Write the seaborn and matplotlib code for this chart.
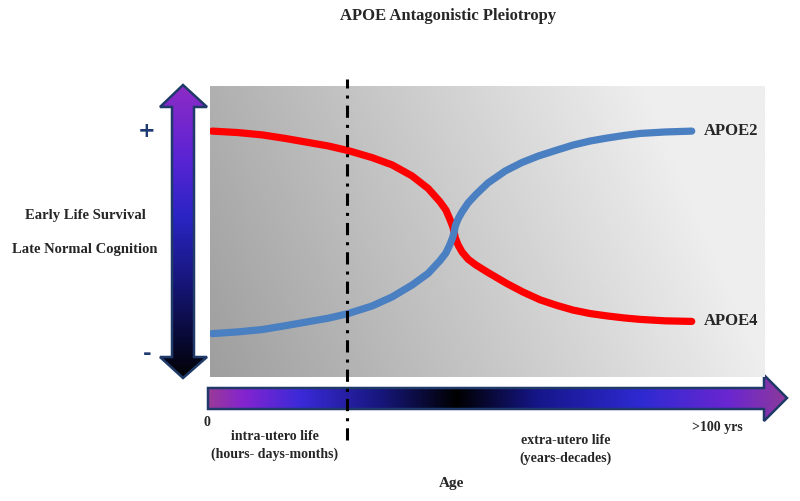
import numpy as np
import pandas as pd
import matplotlib
matplotlib.use("Agg")
import matplotlib.pyplot as plt
from matplotlib.patches import Polygon
from matplotlib.colors import LinearSegmentedColormap
import seaborn as sns

# curve points (x: age axis 0-100, y: 0-100 inside the grey box)
age4 = [0.4, 5.0, 9.4, 13.5, 17.1, 21.3, 24.9, 29.2, 32.8, 36.4, 39.3, 41.4, 42.5, 43.2, 43.7,
        44.0, 44.2, 44.7, 45.4, 46.5, 47.9, 50.1, 53.5, 56.4, 59.5, 62.5, 65.4, 68.5, 71.5,
        74.6, 77.5, 82.0, 86.8]
apoe4 = [84.5, 84.0, 83.2, 82.0, 80.8, 79.4, 77.8, 75.4, 72.9, 69.1, 64.8, 60.3, 57.4, 54.3, 51.9,
         49.8, 47.8, 45.4, 43.0, 40.5, 38.5, 35.9, 32.1, 29.2, 26.5, 24.6, 23.0, 21.8, 21.0,
         20.3, 19.8, 19.3, 19.1]
age2 = [0.4, 5.0, 9.4, 13.5, 17.1, 21.3, 24.9, 29.2, 32.8, 36.4, 39.3, 41.4, 42.5, 43.2, 43.7,
        44.0, 44.2, 44.7, 45.4, 46.5, 47.9, 50.1, 53.2, 56.2, 59.1, 62.2, 65.4, 68.5, 71.5,
        74.6, 77.5, 82.0, 86.8]
apoe2 = [14.9, 15.5, 16.3, 17.6, 18.8, 20.2, 21.8, 24.4, 27.5, 31.6, 35.6, 39.9, 42.6, 45.4, 47.8,
         49.8, 51.9, 54.3, 56.7, 59.8, 62.7, 66.7, 70.8, 73.7, 75.9, 77.8, 79.7, 81.1, 82.1,
         83.0, 83.7, 84.2, 84.5]
birth_x = 24.7

curves = pd.concat([
    pd.DataFrame({"age": age4, "value": apoe4, "allele": "APOE4"}),
    pd.DataFrame({"age": age2, "value": apoe2, "allele": "APOE2"}),
])

sns.set_theme(style="white")
plt.rcParams["font.family"] = ["Liberation Serif", "DejaVu Serif"]
plt.rcParams["font.weight"] = "bold"

W, H = 800, 501
fig = plt.figure(figsize=(8, 5.01), dpi=100)

# overlay axes in pixel units for the arrows and labels
deco = fig.add_axes([0, 0, 1, 1], zorder=0)
deco.set_xlim(0, W)
deco.set_ylim(H, 0)
deco.axis("off")

# main plot area (grey box)
ax = fig.add_axes([210 / W, (H - 377) / H, 555 / W, 291 / H], zorder=1)
ax.patch.set_visible(False)
xx, yy = np.meshgrid(np.linspace(0, 1, 200), np.linspace(0, 1, 100))
shade = np.clip(0.62 + 0.31 * xx + 0.07 * yy, 0, 0.93)
ax.imshow(shade, cmap="gray", vmin=0, vmax=1, extent=(0, 100, 0, 100),
          origin="lower", aspect="auto", zorder=0)

sns.lineplot(data=curves[curves.allele == "APOE4"], x="age", y="value",
             color="#ff0000", linewidth=5.2, ax=ax, zorder=2, solid_joinstyle="round")
sns.lineplot(data=curves[curves.allele == "APOE2"], x="age", y="value",
             color="#4a7fc1", linewidth=5.2, ax=ax, zorder=3, solid_joinstyle="round")
ax.axvline(birth_x, ymin=-0.215, ymax=1.025, color="black", lw=2.2,
           linestyle=(0, (4, 2.3, 1, 2.3)), clip_on=False, zorder=5)
ax.set_xlim(0, 100)
ax.set_ylim(0, 100)
ax.axis("off")

ax.text(age2[-1] + 2.2, apoe2[-1], "APOE2", fontsize=12, fontweight="bold", va="center")
ax.text(age4[-1] + 2.2, apoe4[-1], "APOE4", fontsize=12, fontweight="bold", va="center")


def gradient_arrow(pts, cmap, vertical):
    poly = Polygon(pts, closed=True, facecolor="none", edgecolor="#1f3a68", lw=1.8, zorder=3)
    deco.add_patch(poly)
    xs = [p[0] for p in pts]
    ys = [p[1] for p in pts]
    grad = np.linspace(0, 1, 256)
    img = grad[:, None] if vertical else grad[None, :]
    im = deco.imshow(img, cmap=cmap, extent=(min(xs), max(xs), max(ys), min(ys)),
                     aspect="auto", zorder=2)
    im.set_clip_path(poly)


v_cmap = LinearSegmentedColormap.from_list("v", [
    (0.0, "#8e2bc6"), (0.25, "#5a24d4"), (0.45, "#2a25c4"),
    (0.7, "#141470"), (0.88, "#080830"), (1.0, "#020204")])
gradient_arrow([(183, 85), (207, 107), (194, 107), (194, 357), (207, 357), (183, 378),
                (160, 357), (172, 357), (172, 107), (160, 107)], v_cmap, True)

h_cmap = LinearSegmentedColormap.from_list("h", [
    (0.0, "#9a3a98"), (0.06, "#8424d0"), (0.16, "#3a2ad8"), (0.3, "#16167a"),
    (0.43, "#000000"), (0.57, "#16168a"), (0.75, "#2e2ad2"), (0.9, "#6a26d0"),
    (1.0, "#8c3a9c")])
gradient_arrow([(208, 388), (764, 388), (764, 375), (787, 398), (764, 421),
                (764, 409), (208, 409)], h_cmap, False)

deco.text(448, 16, "APOE Antagonistic Pleiotropy", fontsize=12, fontweight="bold",
          ha="center", va="center")
deco.text(147, 131, "+", fontsize=15, color="#1f3a70", ha="center", va="center",
          family="DejaVu Sans")
deco.text(147, 354, "-", fontsize=15, color="#1f3a70", ha="center", va="center",
          family="DejaVu Sans")
deco.text(85, 216, "Early Life Survival", fontsize=10.5, fontweight="bold", ha="center", va="center")
deco.text(85, 250, "Late Normal Cognition", fontsize=10.5, fontweight="bold", ha="center", va="center")
deco.text(207, 423, "0", fontsize=10, fontweight="bold", ha="center", va="center")
deco.text(275, 436, "intra-utero life", fontsize=10, fontweight="bold", ha="center", va="center")
deco.text(275, 454, "(hours- days-months)", fontsize=10, fontweight="bold", ha="center", va="center")
deco.text(566, 440, "extra-utero life", fontsize=10, fontweight="bold", ha="center", va="center")
deco.text(566, 458, "(years-decades)", fontsize=10, fontweight="bold", ha="center", va="center")
deco.text(717, 427, ">100 yrs", fontsize=10, fontweight="bold", ha="center", va="center")
deco.text(452, 484, "Age", fontsize=11, fontweight="bold", ha="center", va="center")

fig.savefig("out.png", dpi=100)
